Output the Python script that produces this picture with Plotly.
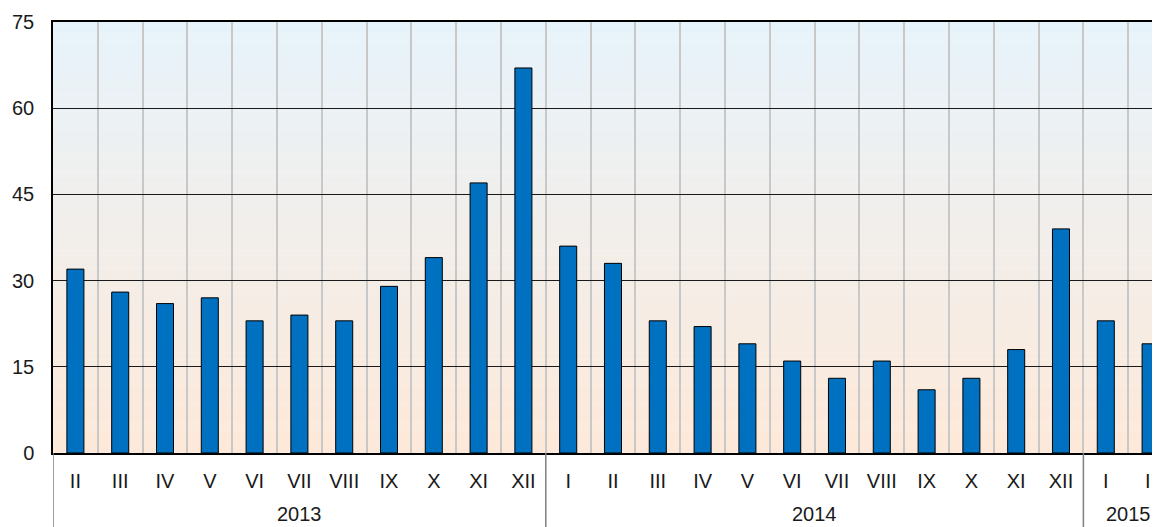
import plotly.graph_objects as go

years = ["2013"] * 11 + ["2014"] * 12 + ["2015"] * 2
months = ["II", "III", "IV", "V", "VI", "VII", "VIII", "IX", "X", "XI", "XII",
          "I", "II", "III", "IV", "V", "VI", "VII", "VIII", "IX", "X", "XI", "XII",
          "I", "II"]
values = [32, 28, 26, 27, 23, 24, 23, 29, 34, 47, 67,
          36, 33, 23, 22, 19, 16, 13, 16, 11, 13, 18, 39,
          23, 19]
y_ticks = [0, 15, 30, 45, 60, 75]

FONT = "Liberation Sans, Arial, sans-serif"
FS = 20
# the page body adds an 8px offset; sizes below compensate for it
W, H = 1160, 527
ML, MR, MT, MB = 45, 8, 14, 82
PH = H - MT - MB

idx = list(range(len(values)))

fig = go.Figure()
fig.add_trace(go.Bar(
    x=idx, y=values,
    marker=dict(color="#0070C0", line=dict(color="#000000", width=1)),
    width=0.38,
    hovertext=[f"{m} {y}" for m, y in zip(months, years)],
))

# vertical gradient background (light blue top -> light peach bottom)
top = (231, 243, 251)
bot = (253, 233, 217)
n = 120
ymax = y_ticks[-1]
shapes = []
for i in range(n):
    t = i / (n - 1)
    c = tuple(round(bot[k] + (top[k] - bot[k]) * t) for k in range(3))
    y0 = ymax * i / n
    y1 = min(ymax * (i + 1) / n + 0.05, ymax)
    shapes.append(dict(type="rect", xref="paper", yref="y", x0=0, x1=1,
                       y0=y0, y1=y1, layer="below",
                       line=dict(width=0), fillcolor="rgb(%d,%d,%d)" % c))

# year groups: dividers and labels
groups = []
for i, yv in enumerate(years):
    if not groups or groups[-1][0] != yv:
        groups.append([yv, i, i])
    else:
        groups[-1][2] = i

annotations = []
div_bottom = -(MB + 4) / PH
for g, a, b in groups:
    shapes.append(dict(type="line", xref="x", yref="paper", x0=a - 0.5, x1=a - 0.5,
                       y0=0, y1=div_bottom, line=dict(color="#7f7f7f", width=1.5)))
    annotations.append(dict(xref="x", yref="paper", x=(a + b) / 2, y=-61 / PH,
                            text=g, showarrow=False, yanchor="middle",
                            font=dict(family=FONT, size=FS, color="#1a1a1a")))

fig.update_layout(
    width=W, height=H,
    margin=dict(l=ML, r=MR, t=MT, b=MB, autoexpand=False),
    paper_bgcolor="white", plot_bgcolor="rgba(0,0,0,0)",
    font=dict(family=FONT, size=FS, color="#1a1a1a"),
    showlegend=False,
    shapes=shapes,
    annotations=annotations,
)
fig.update_xaxes(
    range=[-0.5, 24.21],
    tickmode="array", tickvals=idx, ticktext=months,
    showgrid=False,
    minor=dict(tickmode="array", tickvals=[i - 0.5 for i in range(len(values) + 1)],
               showgrid=True, gridcolor="#c8c8c8", gridwidth=1.5, ticks=""),
    showline=True, linecolor="#000000", linewidth=1.5, mirror=True,
    ticks="", zeroline=False, automargin=False,
    ticklabelstandoff=9,
    tickfont=dict(size=FS),
)
fig.update_yaxes(
    range=[0, 75], tickvals=y_ticks,
    showgrid=True, gridcolor="#1a1a1a", gridwidth=1,
    showline=True, linecolor="#000000", linewidth=1.5,
    zeroline=False, ticks="", automargin=False,
    ticklabelstandoff=13,
    tickfont=dict(size=FS),
)

fig.write_html("out.html")
